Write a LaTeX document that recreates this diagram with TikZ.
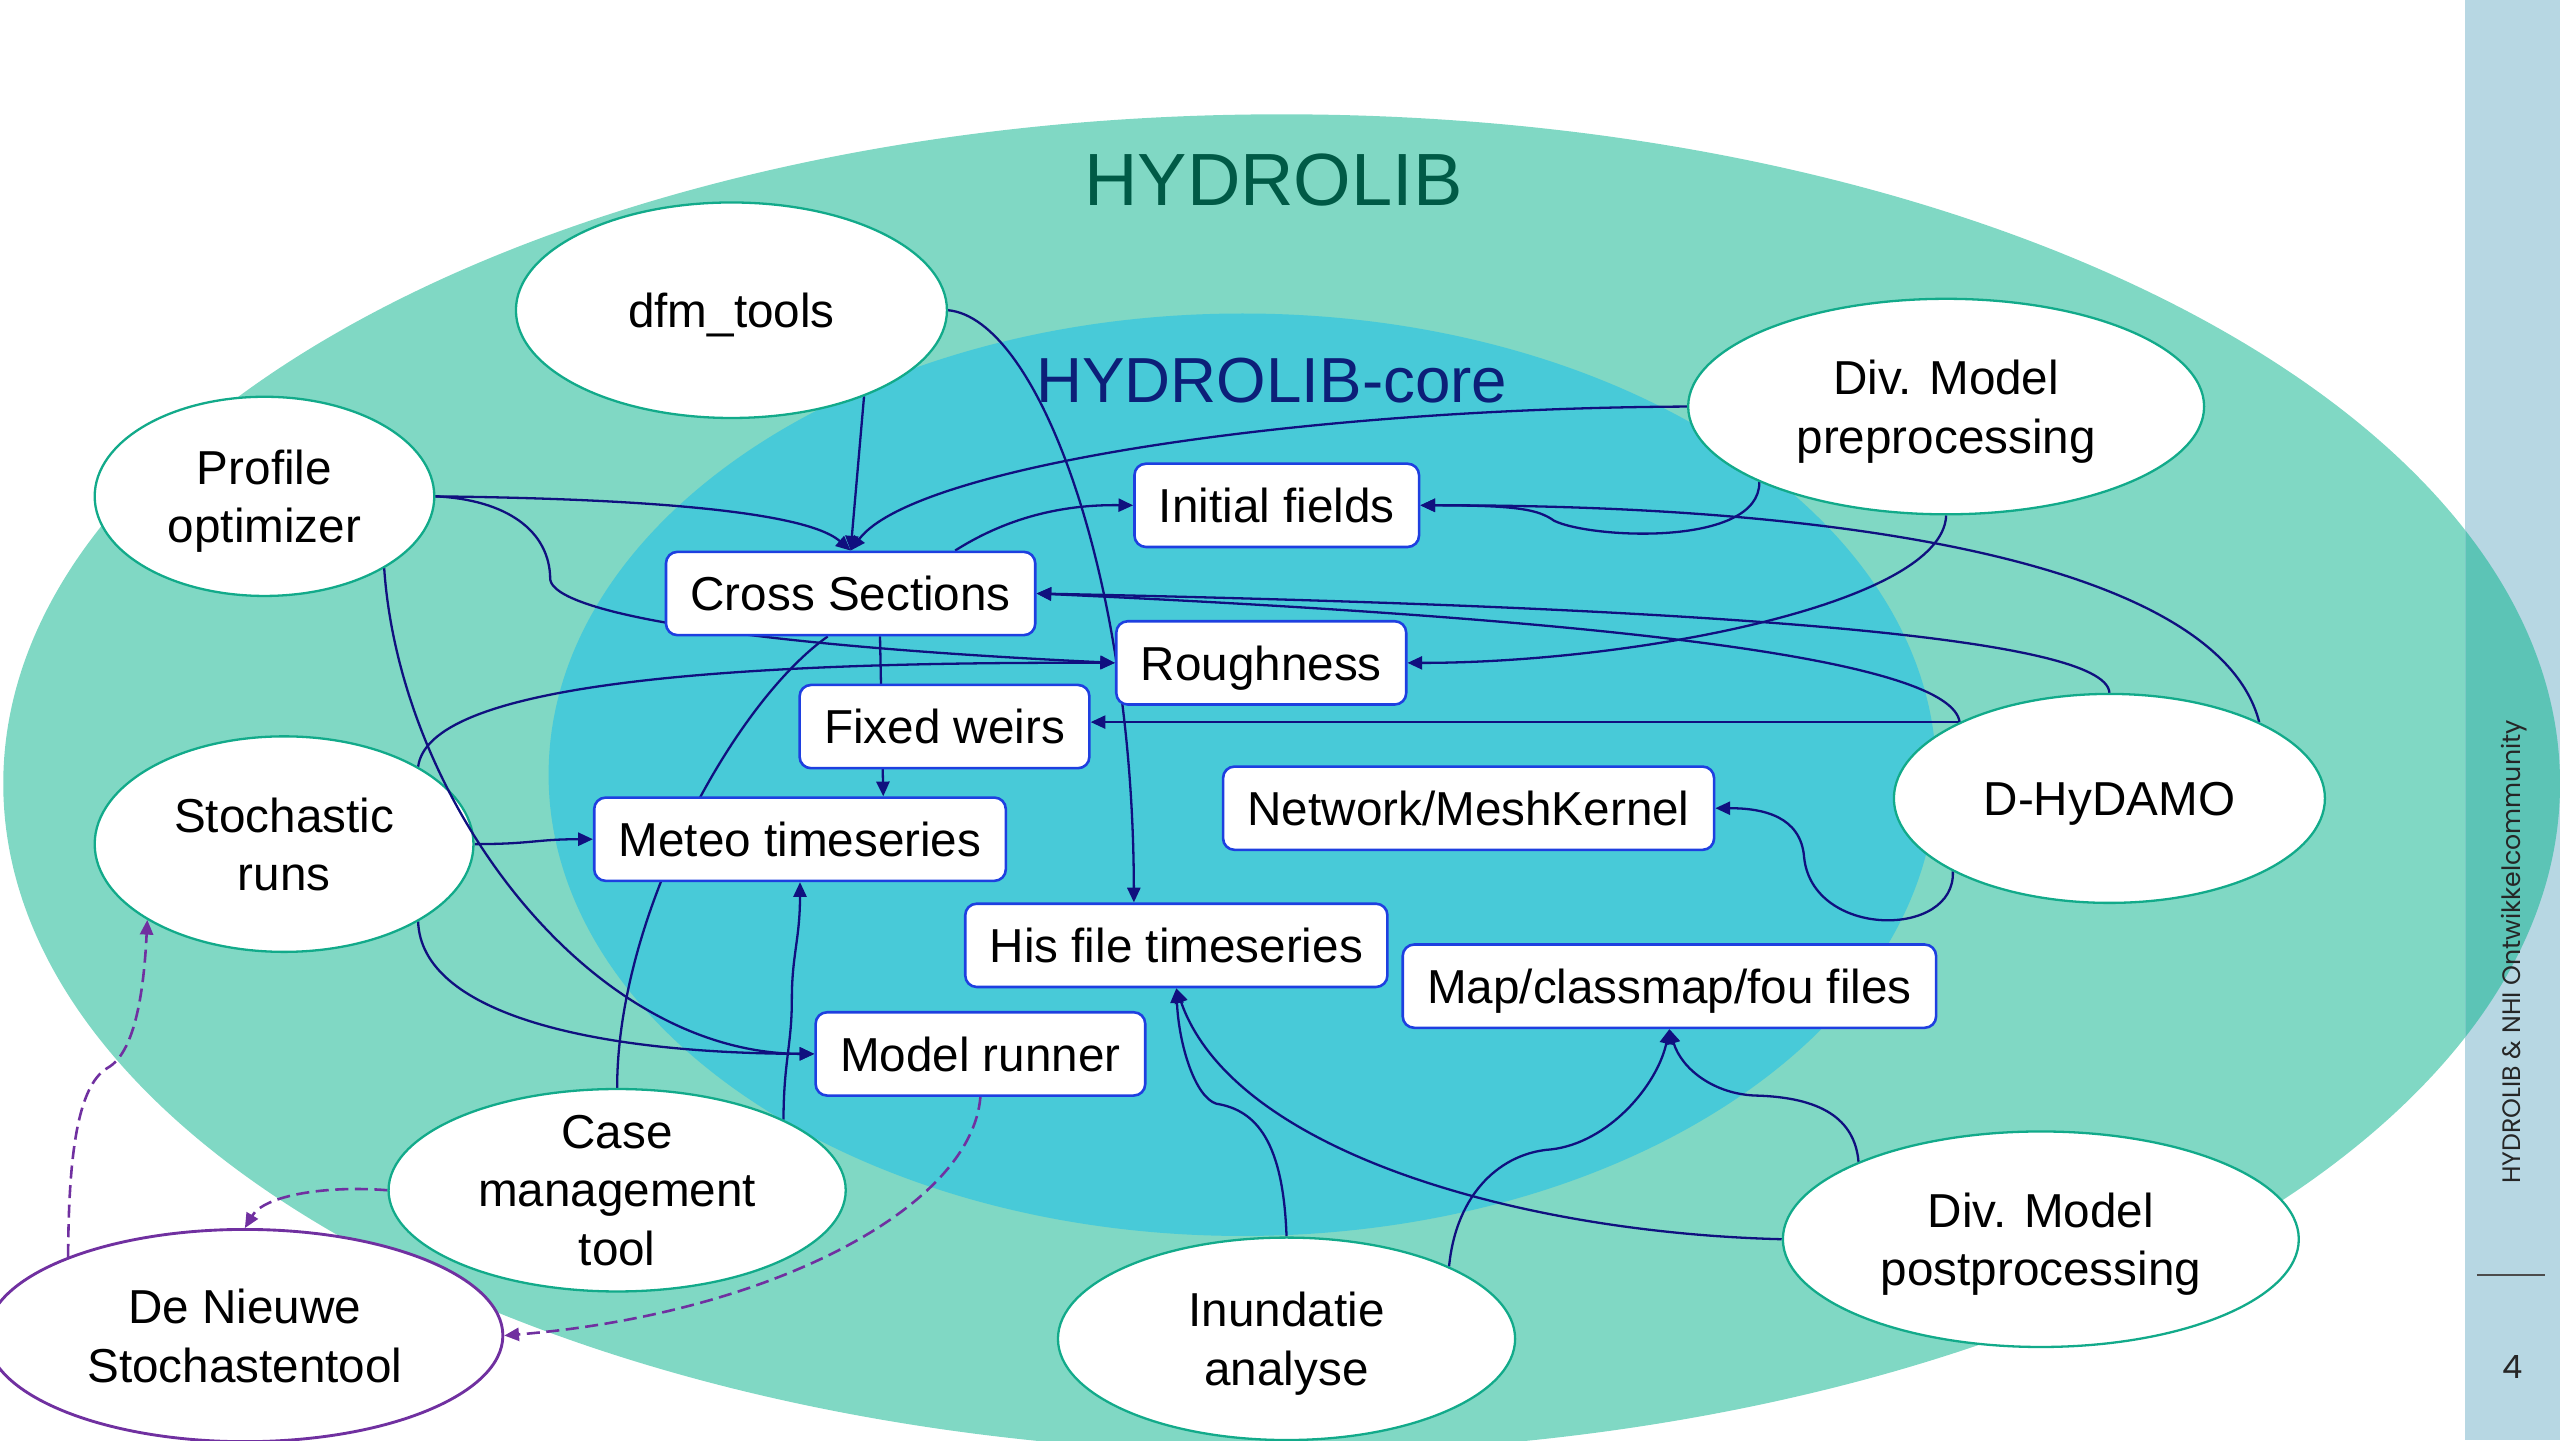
\documentclass[tikz,border=0pt]{standalone}
\usepackage{fontspec}
\setmainfont{Liberation Sans}
\newfontfamily\sidefont{Poppins}
\usetikzlibrary{shapes.geometric, arrows.meta}

\definecolor{hydrolibgreen}{HTML}{80D8C4}
\definecolor{coreblue}{HTML}{48CAD8}
\definecolor{sidebar}{HTML}{B7D7E3}
\definecolor{sidebardark}{HTML}{5CC4B6}
\definecolor{toolborder}{HTML}{12AA8A}
\definecolor{boxborder}{HTML}{1E3FE0}
\definecolor{wirenavy}{HTML}{10107F}
\definecolor{dashpurple}{HTML}{7030A0}
\definecolor{titlegreen}{HTML}{005A46}
\definecolor{titlenavy}{HTML}{0C1F78}

\pgfdeclarelayer{ground}
\pgfdeclarelayer{wires}
\pgfsetlayers{ground,wires,main}

\tikzset{
    toolnode/.style={ellipse, draw=toolborder, fill=white, line width=0.4pt, inner sep=0pt, text depth=0pt, align=center, font=\fontsize{8.3}{10.2}\selectfont},
    filebox/.style={rectangle, rounded corners=0.07cm, draw=boxborder, fill=white, line width=0.45pt, minimum height=0.51cm, inner xsep=0.15cm, inner ysep=0pt, text height=0.21cm, text depth=0pt, font=\fontsize{8.3}{10.2}\selectfont},
    plainwire/.style={draw=wirenavy, line width=0.4pt},
    wire/.style={plainwire, -{Triangle[length=0.09cm,width=0.08cm]}},
    planlink/.style={draw=dashpurple, line width=0.45pt, dash pattern=on 0.08cm off 0.04cm, -{Triangle[length=0.09cm,width=0.08cm]}},
}

\begin{document}
\begin{tikzpicture}[x=1cm, y=-1cm]
    \useasboundingbox (0,0) rectangle (15.68,8.82);
    \clip (0,0) rectangle (15.68,8.82);

    % background: the two libraries and the side bar
    \begin{pgfonlayer}{ground}
        \fill[hydrolibgreen] (7.85,4.80) ellipse [x radius=7.83, y radius=4.10];
        \fill[sidebar] (15.10,0) rectangle (15.68,8.82);
        \begin{scope}
            \clip (15.10,0) rectangle (15.68,8.82);
            \fill[sidebardark] (7.85,4.80) ellipse [x radius=7.83, y radius=4.10];
        \end{scope}
        \fill[coreblue] (7.61,4.745) ellipse [x radius=4.25, y radius=2.825];
    \end{pgfonlayer}

    \node[text=titlegreen, font=\fontsize{12.9}{15}\selectfont] (hydrolib) at (7.80,1.10) {HYDROLIB};
    \node[text=titlenavy, font=\fontsize{11.1}{13}\selectfont] (core) at (7.79,2.33) {HYDROLIB-core};

    % tools
    \node[toolnode, minimum width=2.64cm, minimum height=1.32cm] (dfm) at (4.48,1.90) {dfm\_tools};
    \node[toolnode, minimum width=2.08cm, minimum height=1.22cm] (profile) at (1.62,3.04) {Profile\\optimizer};
    \node[toolnode, minimum width=3.16cm, minimum height=1.32cm] (divpre) at (11.92,2.49) {Div. Model\\preprocessing};
    \node[toolnode, minimum width=2.32cm, minimum height=1.32cm] (stoch) at (1.74,5.17) {Stochastic\\runs};
    \node[toolnode, minimum width=2.64cm, minimum height=1.28cm] (hydamo) at (12.92,4.89) {D-HyDAMO};
    \node[toolnode, minimum width=2.80cm, minimum height=1.24cm, inner ysep=-0.1cm] (casetool) at (3.78,7.29) {Case\\management\\tool};
    \node[toolnode, draw=dashpurple, line width=0.5pt, minimum width=3.16cm, minimum height=1.30cm] (nieuwe) at (1.50,8.18) {De Nieuwe\\Stochastentool};
    \node[toolnode, minimum width=2.80cm, minimum height=1.24cm] (inundatie) at (7.88,8.20) {Inundatie\\analyse};
    \node[toolnode, minimum width=3.16cm, minimum height=1.32cm] (divpost) at (12.50,7.59) {Div. Model\\postprocessing};

    % core files
    \node[filebox] (initfields) at (7.82,3.095) {Initial fields};
    \node[filebox] (cross) at (5.21,3.635) {Cross Sections};
    \node[filebox] (rough) at (7.725,4.06) {Roughness};
    \node[filebox] (weirs) at (5.785,4.45) {Fixed weirs};
    \node[filebox] (mesh) at (8.995,4.95) {Network/MeshKernel};
    \node[filebox] (meteo) at (4.90,5.14) {Meteo timeseries};
    \node[filebox] (hisfile) at (7.205,5.79) {His file timeseries};
    \node[filebox] (mapfiles) at (10.225,6.04) {Map/classmap/fou files};
    \node[filebox] (runner) at (6.005,6.455) {Model runner};

    \begin{pgfonlayer}{wires}
        \draw[wire] (dfm.-33) -- (cross.north);
        \draw[wire] (dfm.east) .. controls (6.35,1.95) and (6.94,3.50) .. ([xshift=-0.26cm]hisfile.north);
        \draw[wire] (profile.east) .. controls (3.6,3.05) and (4.9,3.1) .. (cross.north);
        \draw[wire] (profile.east) .. controls (3.1,3.06) and (3.37,3.25) .. (3.37,3.55)
            .. controls (3.4,3.75) and (4.5,3.95) .. (rough.west);
        \draw[wire] (stoch.east) .. controls +(0.35,0) and +(-0.35,0) .. (meteo.west);
        \draw[wire] (stoch.30) .. controls (2.62,4.25) and (4.0,4.05) .. (rough.west);
        \draw[wire] (stoch.-30) .. controls (2.58,6.2) and (3.6,6.45) .. (runner.west);
        \draw[plainwire] (casetool.north) .. controls (3.78,5.6) and (4.5,4.3) .. ([xshift=-0.14cm]cross.south);
        \draw[wire] (casetool.23) .. controls (4.80,6.5) and (4.85,6.4) .. (4.85,6.12)
            .. controls (4.85,5.85) and (4.90,5.75) .. (meteo.south);
        \draw[wire] ([xshift=0.18cm]cross.south) -- ([xshift=0.51cm]meteo.north);
        \draw[wire] ([xshift=0.64cm]cross.north) .. controls (6.2,3.15) and (6.55,3.09) .. (initfields.west);
        \draw[wire] (divpre.west) .. controls (8.0,2.5) and (5.6,2.85) .. (cross.north);
        \draw[wire] (divpre.-158) .. controls (10.78,3.35) and (9.75,3.3) .. (9.52,3.19)
            .. controls (9.42,3.12) and (9.3,3.095) .. (initfields.east);
        \draw[wire] (divpre.south) .. controls (11.9,3.7) and (10.0,4.06) .. (rough.east);
        \draw[wire] (hydamo.27) .. controls (13.6,3.5) and (11.5,3.09) .. (initfields.east);
        \draw[wire] (hydamo.north) .. controls (12.9,3.9) and (10.5,3.72) .. (cross.east);
        \draw[wire] (hydamo.153) .. controls (11.95,4.05) and (10.0,3.8) .. (cross.east);
        \draw[wire] (hydamo.153) -- (hydamo.153 -| weirs.east);
        \draw[wire] (hydamo.-155) .. controls (11.98,5.75) and (11.1,5.75) .. (11.05,5.25)
            .. controls (11.03,5.0) and (10.8,4.95) .. (mesh.east);
        \draw[wire] (inundatie.north) .. controls (7.86,7.0) and (7.7,6.8) .. (7.45,6.76)
            .. controls (7.32,6.72) and (7.22,6.4) .. (hisfile.south);
        \draw[wire] (divpost.west) .. controls (9.3,7.55) and (7.55,7.05) .. (hisfile.south);
        \draw[wire] (inundatie.24) .. controls (8.92,7.3) and (9.2,7.06) .. (9.5,7.04)
            .. controls (9.85,7.0) and (10.15,6.65) .. (mapfiles.south);
        \draw[wire] (divpost.157) .. controls (11.36,6.85) and (11.15,6.72) .. (10.75,6.71)
            .. controls (10.5,6.70) and (10.3,6.55) .. (mapfiles.south);

        % dashed links to De Nieuwe Stochastentool
        \draw[planlink] (nieuwe.156) .. controls (0.42,7.1) and (0.47,6.65) .. (0.66,6.54)
            .. controls (0.82,6.45) and (0.88,6.1) .. (stoch.-151);
        \draw[planlink] (casetool.west) .. controls (2.0,7.26) and (1.62,7.32) .. (nieuwe.north);
        \draw[planlink] (runner.south) .. controls (5.95,7.4) and (4.7,8.05) .. (nieuwe.east);
    \end{pgfonlayer}

    \draw[wire] (profile.-31) .. controls (2.45,4.9) and (3.6,6.45) .. (runner.west);

    % side bar
    \node[rotate=90, text=black!85, font=\sidefont\fontsize{4.4}{5}\selectfont] (footer) at (15.40,5.83) {HYDROLIB \& NHI Ontwikkelcommunity};
    \draw[black!70, line width=0.3pt] (15.17,7.81) -- (15.59,7.81);
    \node[text=black!85, font=\sidefont\fontsize{5.6}{6.5}\selectfont] (pagenum) at (15.39,8.37) {4};
\end{tikzpicture}
\end{document}
